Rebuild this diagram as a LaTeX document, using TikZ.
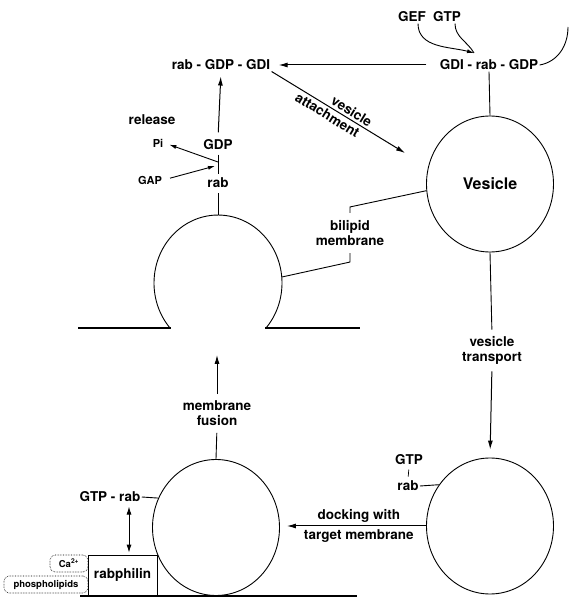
\documentclass[tikz,border=0pt]{standalone}
\usepackage{fontspec}
\setmainfont{TeX Gyre Heros}
\usetikzlibrary{positioning,shapes.geometric,arrows.meta}

\begin{document}
\begin{tikzpicture}[x=1pt,y=1pt,line width=0.9pt,
    lbl/.style={font=\bfseries\fontsize{13.5}{15}\selectfont,inner sep=1pt,align=center},
    small lbl/.style={font=\bfseries\fontsize{11}{13}\selectfont,inner sep=1pt},
    tiny lbl/.style={font=\bfseries\fontsize{9.5}{11}\selectfont,inner sep=0pt},
    vesicle node/.style={ellipse,draw,minimum width=127pt,minimum height=136pt,
                         inner sep=0pt},
    membrane/.style={line width=1.8pt},
    arr/.style={-{Latex[length=9pt,width=5pt]},line width=1pt},
    small arr/.style={-{Latex[length=7pt,width=4pt]},line width=0.9pt},
    dotbox/.style={draw,densely dotted,rounded corners=5pt,line width=0.6pt}
  ]
  \useasboundingbox (0,0) rectangle (571,598);

  % GDI - rab - GDP
  \node[lbl] (gef) at (412,581) {GEF};
  \node[lbl] (gtp) at (447,581) {GTP};
  \node[lbl] (gdirabgdp) at (489,533) {GDI - rab - GDP};
  \coordinate (join) at (474,545);
  \coordinate (loopend) at (568,571);
  \draw ([xshift=8pt]gtp.south) to[out=-90,in=120] (join);
  \draw[small arr] ([xshift=6pt]gef.south) to[out=-90,in=165] (join);
  \draw (gdirabgdp.east) to[out=10,in=-90] (loopend);

  % rab - GDP - GDI
  \node[lbl] (rabgdpgdi) at (221,533) {rab - GDP - GDI};
  \draw[arr,shorten <=12pt,shorten >=7pt] (gdirabgdp.west) -- (rabgdpgdi.east);
  \coordinate (attach) at (405,445);
  \draw[arr] (rabgdpgdi.south east) -- (attach)
     node[lbl,pos=0.57,sloped,above=1.5pt] {vesicle}
     node[lbl,pos=0.45,sloped,below=1.5pt] {attachment};

  % vesicle
  \node[vesicle node,font=\bfseries\fontsize{16}{18}\selectfont] (vesicle) at (490,414) {Vesicle};
  \draw (vesicle.north) -- (gdirabgdp.south);
  \node[lbl] (transport) at (492,248) {vesicle\\transport};
  \draw[shorten >=5pt] (vesicle.south) -- (transport.north);
  \node[vesicle node] (target) at (490,72) {};
  \draw[arr,shorten <=6pt,shorten >=8pt] (transport.south) -- (target.north);
  \node[lbl] (gtpt) at (409,138) {GTP};
  \node[lbl] (rabt) at (408,112) {rab};
  \draw[line width=0.7pt,shorten <=3pt,shorten >=3pt] (gtpt.south) -- (rabt.north);
  \draw (rabt.east) -- (target.141);

  % docking and fusion
  \node[vesicle node] (fused) at (216,70.5) {};
  \draw[arr,shorten >=7pt] (target.west) -- (fused.east |- target.west)
     node[lbl,pos=0.46,above=2pt] {docking with}
     node[lbl,pos=0.46,below=2pt] {target membrane};
  \node[lbl] (fusion) at (217,185) {membrane\\fusion};
  \draw[shorten >=6pt] (fused.north) -- (fusion.south);
  \coordinate (budbase) at (217,243);
  \draw[arr,shorten <=5pt] (fusion.north) -- (budbase);

  % bud on the donor membrane
  \draw[membrane] (78,270) -- (171,270);
  \draw[membrane] (265,270) -- (360,270);
  \draw (170,270) arc[start angle=221.4,end angle=-41.4,x radius=64,y radius=68];
  \coordinate (budtop) at (218,383);
  \coordinate (budright) at (282,321);

  \node[lbl] (rab) at (218,415) {rab};
  \node[lbl] (gdp) at (218,453) {GDP};
  \draw[shorten >=4pt] (budtop) -- (rab.south);
  \draw[shorten <=3pt,shorten >=3pt] (gdp.south) -- (rab.north);
  \draw[arr,shorten <=6pt,shorten >=5pt] (gdp.north) -- (rabgdpgdi.south);
  \node[lbl] (release) at (152,478) {release};
  \node[small lbl] (pi) at (158,455) {Pi};
  \node[small lbl] (gap) at (150,418) {GAP};
  \coordinate (hydro) at (218,436);
  \coordinate (gapend) at (215,432);
  \draw[small arr,shorten >=5pt] (hydro) -- (pi.east);
  \draw[small arr,shorten <=7pt] (gap.east) -- (gapend);

  \node[lbl] (bilipid) at (350,365) {bilipid\\membrane};
  \draw ([yshift=6pt]bilipid.north) -- ++(0,6) -- (vesicle.186);
  \draw ([yshift=-6pt]bilipid.south) -- ++(0,-9) -- (budright);

  % rabphilin at the target membrane
  \node[lbl] (gtprab) at (110,101) {GTP - rab};
  \draw (gtprab.east) -- (fused.153);
  \node[draw,lbl,minimum width=69pt,minimum height=40pt,inner sep=0pt,
        line width=0.8pt] (rabphilin) at (122.5,23) {rabphilin};
  \draw[{Latex[length=8pt,width=5pt]}-{Latex[length=8pt,width=5pt]},shorten <=3pt,
        shorten >=2pt] ([xshift=19pt]gtprab.south) -- ([xshift=6.5pt]rabphilin.north);
  \node[dotbox,tiny lbl,minimum width=38pt,minimum height=17pt] (calcium) at (69,34.5)
       {Ca\textsuperscript{2+}};
  \node[dotbox,tiny lbl,minimum width=84pt,minimum height=17pt] (phospho) at (46,13.5)
       {phospholipids};
  \draw[membrane] (80,2) -- (357,2);
\end{tikzpicture}
\end{document}
